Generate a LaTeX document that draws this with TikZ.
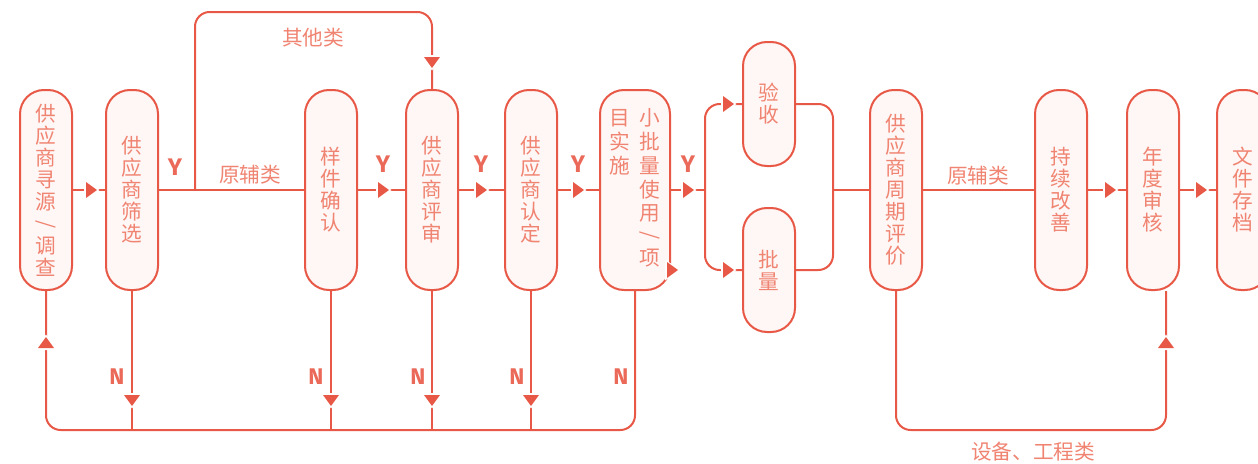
\documentclass[tikz,border=0pt]{standalone}
\usepackage{fontspec}
\setmainfont{Noto Sans CJK SC}
\newfontfamily\ynfont{Fira Sans}
\usetikzlibrary{positioning}

\definecolor{linered}{RGB}{232,88,70}
\definecolor{textred}{RGB}{240,132,114}
\definecolor{boxfill}{RGB}{255,247,245}

\tikzset{
  stepbox/.style={draw=linered, fill=boxfill, line width=1.5pt, rounded corners=18pt,
    minimum width=39pt, minimum height=150pt, inner sep=0pt, align=center,
    text=textred, font=\fontsize{15.5}{16.5}\selectfont},
  shortbox/.style={stepbox, minimum height=93pt},
  link/.style={draw=linered, line width=1.5pt, rounded corners=11pt},
  tag/.style={text=textred, font=\fontsize{15.5}{16}\selectfont},
  yes/.style={text=linered!90!white, font=\ynfont\bfseries\fontsize{18}{18}\selectfont},
  no/.style={text=linered!90!white, font=\ynfont\bfseries\fontsize{17}{17}\selectfont},
  tri/.pic={
    \fill[white] (-7,-10.5) -- (8.5,0) -- (-7,10.5) -- cycle;
    \fill[linered] (-5,-8) -- (6,0) -- (-5,8) -- cycle;
  }
}

\begin{document}
\begin{tikzpicture}[x=0.75pt, y=-0.75pt]
\useasboundingbox (0,0) rectangle (1258,464);

% steps
\node[stepbox] (src) at (46,190) {供\\应\\商\\寻\\源\\\rotatebox[origin=c]{-90}{/}\\调\\查};
\node[stepbox] (screen) at (132,190) {供\\应\\商\\筛\\选};
\node[stepbox] (sample) at (331,190) {样\\件\\确\\认};
\node[stepbox] (review) at (432,190) {供\\应\\商\\评\\审};
\node[stepbox] (approve) at (531,190) {供\\应\\商\\认\\定};
\node[stepbox, minimum width=52.5pt] (trial) at (635,190) {%
  \begin{tabular}{@{}c@{\hspace{7pt}}c@{}}
  目 & 小\\ 实 & 批\\ 施 & 量\\ & 使\\ & 用\\ & \rotatebox[origin=c]{-90}{/}\\ & 项
  \end{tabular}};
\node[shortbox] (accept) at (769,104) {验\\收};
\node[shortbox] (batch) at (769,270) {批\\量};
\node[stepbox] (periodic) at (896,190) {供\\应\\商\\周\\期\\评\\价};
\node[stepbox] (improve) at (1061,190) {持\\续\\改\\善};
\node[stepbox] (audit) at (1153,190) {年\\度\\审\\核};
\node[stepbox] (archive) at (1243,190) {文\\件\\存\\档};

% main line
\draw[link] (src) -- (screen);
\pic at (91,190) {tri};
\coordinate (fork) at (195,190);
\draw[link] (screen) -- (sample);
\node[yes] (y1) at (175,167) {Y};
\node[tag] (raw1) at (250,175) {原辅类};

% other types go straight to review
\draw[link] (fork) -- (195,12) -| (review.north);
\pic[rotate=-90] at (432,62) {tri};
\node[tag] (other) at (313,38) {其他类};

\draw[link] (sample) -- (review);
\pic at (383,190) {tri};
\node[yes] (y2) at (383,164) {Y};
\draw[link] (review) -- (approve);
\pic at (481,190) {tri};
\node[yes] (y3) at (481,164) {Y};
\draw[link] (approve) -- (trial);
\pic at (578,190) {tri};
\node[yes] (y4) at (578,164) {Y};

% split to acceptance / batch
\coordinate (split) at (705,190);
\coordinate (join) at (833,190);
\draw[link] (trial) -- (split);
\pic at (688,190) {tri};
\node[yes] (y5) at (688,164) {Y};
\draw[link] (split) |- (accept.west);
\draw[link] (split) |- (batch.west);
\pic at (728,104) {tri};
\pic at (728,270) {tri};
\pic at (672,270) {tri};
\draw[link] (accept.east) -| (join);
\draw[link] (batch.east) -| (join);
\draw[link] (join) -- (periodic);

% periodic evaluation onwards
\draw[link] (periodic) -- (improve);
\node[tag] (raw2) at (978,176) {原辅类};
\draw[link] (improve) -- (audit);
\pic at (1110,190) {tri};
\draw[link] (audit) -- (archive);
\pic at (1201,190) {tri};

% N branches back to sourcing
\draw[link] (trial.south) -- (635,430) -| (src.south);
\pic[rotate=90] at (46,343) {tri};
\node[no] (n5) at (621,377) {N};
\foreach \step/\nx in {screen/117, sample/316, review/418, approve/517} {
  \draw[link] (\step.south) -- (\step.south |- 0,430);
  \pic[rotate=-90] at (\step.south |- 0,400) {tri};
  \node[no] (no-\step) at (\nx,377) {N};
}

% equipment / engineering back to audit
\draw[link] (periodic.south) -- (periodic.south |- 0,430) -| ([xshift=9.75pt]audit.south);
\pic[rotate=90] at (1166,343) {tri};
\node[tag] (equip) at (1033,452) {设备、工程类};

\end{tikzpicture}
\end{document}
